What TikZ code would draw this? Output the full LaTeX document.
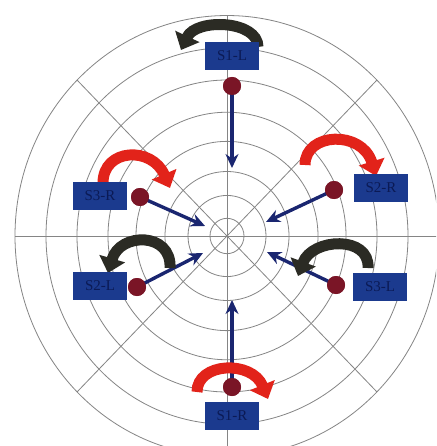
\documentclass[tikz,border=0pt]{standalone}
\usepackage{fontspec}
\setmainfont{Liberation Serif}
\usetikzlibrary{arrows.meta}
\definecolor{gridc}{HTML}{858585}
\definecolor{boxblue}{HTML}{1B3A8E}
\definecolor{boxtext}{HTML}{0B1A55}
\definecolor{navy}{HTML}{1A2670}
\definecolor{dotred}{HTML}{7A1526}
\definecolor{arrred}{HTML}{E2231A}
\definecolor{arrblack}{HTML}{2B2B24}
\begin{document}
\begin{tikzpicture}[x=1pt,y=-1pt,
 gridline/.style={draw=gridc,line width=0.8pt},
 tag/.style={fill=boxblue, minimum width=54pt, minimum height=28pt, inner sep=0pt, text=boxtext, font=\fontsize{15}{15}\selectfont},
 dot/.style={circle, fill=dotred, minimum size=18pt, inner sep=0pt},
 push/.style={draw=navy, line width=3.4pt, -{Stealth[length=14pt,width=13pt]}},
 turnred/.style={draw=arrred, line width=11pt, -{Triangle[length=15pt,width=26pt]}},
 turnblack/.style={draw=arrblack, line width=11pt, -{Triangle[length=15pt,width=26pt]}}]
\useasboundingbox (0,0) rectangle (436,446);
\fill[white] (0,0) rectangle (436,446);
\begin{scope}
\clip (0,0) rectangle (436,446);
\coordinate (o) at (227,236);
\foreach \r in {17,39,62,91,119,150,181,212}
  \draw[gridline] (o) ellipse [x radius={\r*1pt}, y radius={1.04*\r*1pt}];
\draw[gridline] (15,236) -- (439,236);
\draw[gridline] (227,15.5) -- (227,456.5);
\draw[gridline] (77,80) -- (377,392);
\draw[gridline] (377,80) -- (77,392);
\end{scope}

% dots
\node[dot] (d1) at (232,86) {};
\node[dot] (d2) at (140,197) {};
\node[dot] (d3) at (334,190) {};
\node[dot] (d4) at (137,287) {};
\node[dot] (d5) at (336,285) {};
\node[dot] (d6) at (232,387) {};

% targets
\coordinate (t1) at (232,168);
\coordinate (t2) at (205,226);
\coordinate (t3) at (266,222);
\coordinate (t4) at (203,253);
\coordinate (t5) at (267,252);
\coordinate (t6) at (232,300);

\draw[push] (d1.center) -- (t1);
\draw[push] (d2.center) -- (t2);
\draw[push] (d3.center) -- (t3);
\draw[push] (d4.center) -- (t4);
\draw[push] (d5.center) -- (t5);
\draw[push] (d6.center) -- (t6);

% curved arrows
\draw[turnblack] (258,47) .. controls (258,20) and (196,18) .. (181,50);
\draw[turnred] (103,183) .. controls (103,148) and (152,146) .. (170,188);
\draw[turnred] (305,165) .. controls (305,132) and (362,130) .. (376,176);
\draw[turnblack] (170,268) .. controls (172,232) and (120,232) .. (108,273);
\draw[turnblack] (368,268) .. controls (370,235) and (312,238) .. (298,276);
\draw[turnred] (197,392) .. controls (197,362) and (252,360) .. (268,399);

% boxes
\node[tag] (b1) at (232,56) {S1-L};
\node[tag] (b2) at (100,196) {S3-R};
\node[tag] (b3) at (381,188) {S2-R};
\node[tag] (b4) at (100,286) {S2-L};
\node[tag] (b5) at (380,287) {S3-L};
\node[tag] (b6) at (232,416) {S1-R};

% dots on top
\foreach \n in {d1,d2,d3,d4,d5,d6} \fill[dotred] (\n.center) circle (9pt);
\end{tikzpicture}
\end{document}
